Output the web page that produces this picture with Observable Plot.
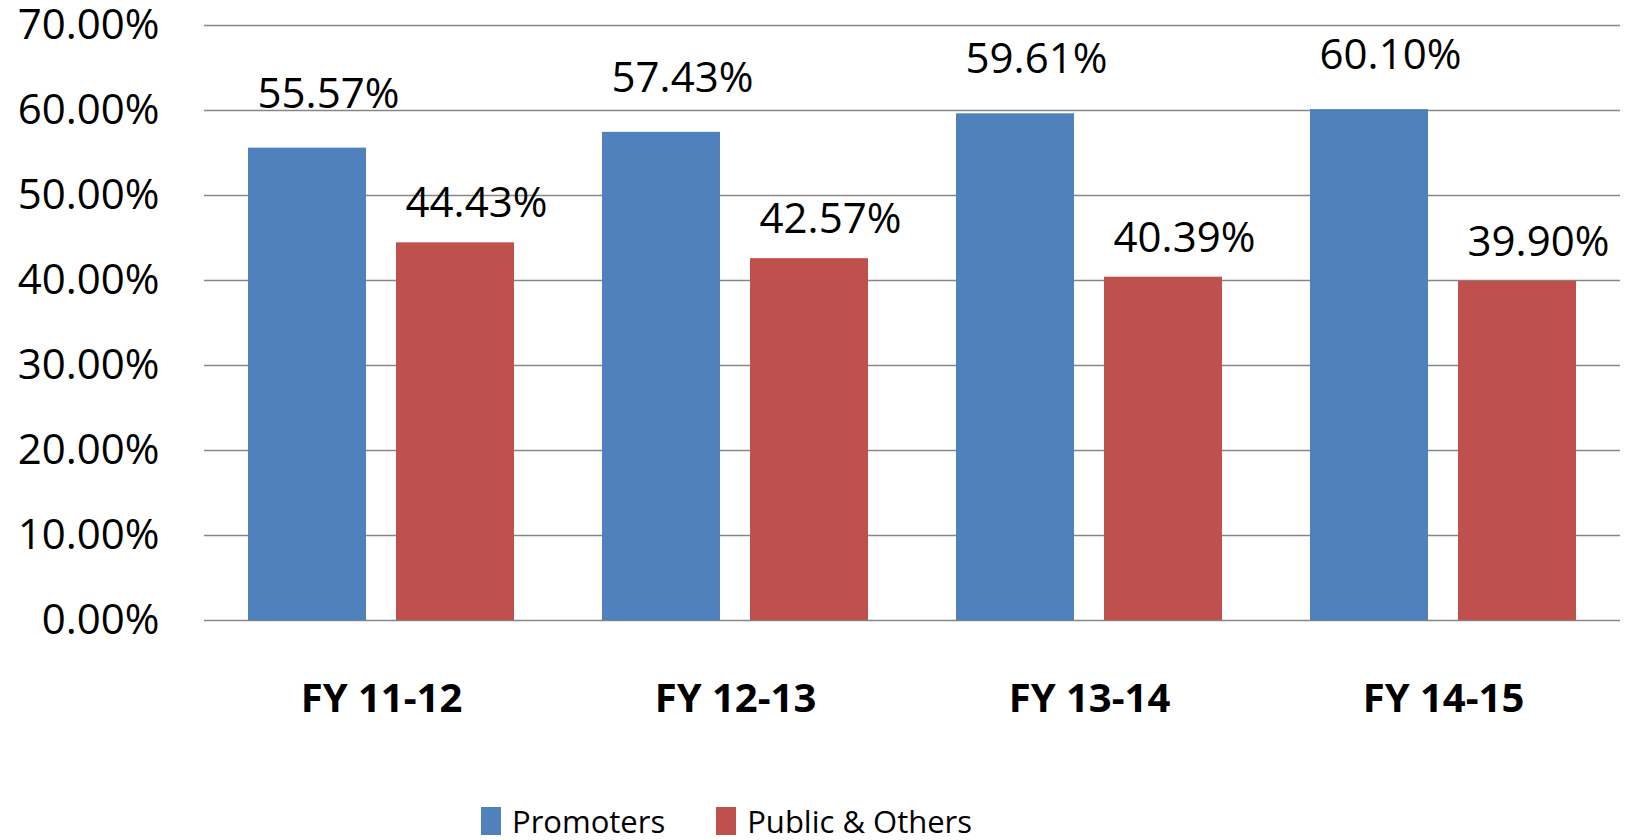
<!DOCTYPE html>
<html>
<head>
<meta charset="utf-8">
<script src="https://cdn.jsdelivr.net/npm/d3@7"></script>
<script src="https://cdn.jsdelivr.net/npm/@observablehq/plot@0.6"></script>
<style>
  html, body { margin: 0; padding: 0; background: #fff; overflow: hidden; }
  #chart svg { display: block; }
  #legend { display: flex; align-items: center; margin-left: 481px; margin-top: 0px;
            font-family: 'Open Sans', sans-serif; font-size: 31px; font-weight: 500; color: #000; }
  #legend .item { display: flex; align-items: center; margin-right: 51px; }
  #legend .sw { width: 20px; height: 28px; margin-right: 11px; }
</style>
</head>
<body>
<div id="chart"></div>
<div id="legend"></div>
<script>
const years = ["FY 11-12", "FY 12-13", "FY 13-14", "FY 14-15"];
const series = ["Promoters", "Public & Others"];
const promoters = [55.57, 57.43, 59.61, 60.10];
const publicOthers = [44.43, 42.57, 40.39, 39.90];
const yTicks = [0, 10, 20, 30, 40, 50, 60, 70];
const colors = ["#4F81BD", "#C0504D"];

const fmt = v => v.toFixed(2) + "%";

const data = years.flatMap((yr, i) => [
  {year: yr, series: series[0], value: promoters[i]},
  {year: yr, series: series[1], value: publicOthers[i]}
]);

const chart = Plot.plot({
  width: 1632,
  height: 800,
  marginLeft: 203,
  marginRight: 11,
  marginTop: 25,
  marginBottom: 180,
  style: {fontFamily: "'Open Sans', sans-serif", fontSize: "42px", color: "#000", background: "#fff", overflow: "visible"},
  fx: {domain: years, padding: 0, label: null},
  x: {domain: series, paddingInner: 0.2013, paddingOuter: 0.29, axis: null},
  y: {domain: [0, 70], axis: null},
  color: {domain: series, range: colors},
  marks: [
    Plot.ruleY(yTicks, {stroke: "#868686", strokeWidth: 1.5}),
    Plot.barY(data, {fx: "year", x: "series", y: "value", fill: "series"}),
    Plot.text(data.filter(d => d.series === series[0]), {
      fx: "year", x: "series", y: "value", text: d => fmt(d.value),
      dy: -54, dx: 21, fontSize: 42, fontWeight: 500, fill: "#000"
    }),
    Plot.text(data.filter(d => d.series === series[1]), {
      fx: "year", x: "series", y: "value", text: d => fmt(d.value),
      dy: -39, dx: 21, fontSize: 42, fontWeight: 500, fill: "#000"
    }),
    Plot.axisY(yTicks, {tickSize: 0, tickPadding: 45, tickFormat: fmt, fontSize: 42, fontWeight: 500, label: null}),
    Plot.axisFx({anchor: "bottom", tickSize: 0, tickPadding: 63, fontSize: 40, fontWeight: "bold", label: null})
  ]
});
document.getElementById("chart").appendChild(chart);

const legend = document.getElementById("legend");
series.forEach((s, i) => {
  const item = document.createElement("div");
  item.className = "item";
  const sw = document.createElement("div");
  sw.className = "sw";
  sw.style.background = colors[i];
  const label = document.createElement("span");
  label.textContent = s;
  item.appendChild(sw);
  item.appendChild(label);
  legend.appendChild(item);
});
</script>
</body>
</html>
